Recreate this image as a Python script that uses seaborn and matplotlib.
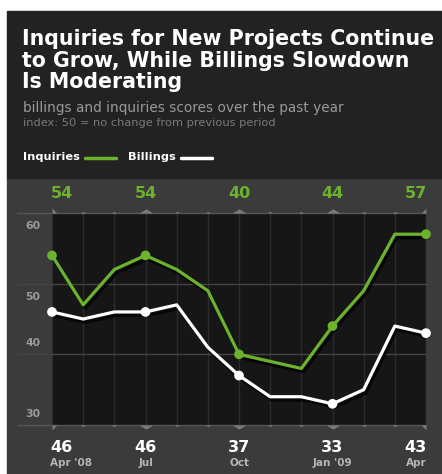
import matplotlib
matplotlib.use("Agg")
import matplotlib.pyplot as plt
import matplotlib.patheffects as pe
import matplotlib.transforms as mtransforms
from matplotlib.patches import Rectangle
import seaborn as sns
import pandas as pd

# ---------------- data ----------------
months = ["Apr '08", "May", "Jun", "Jul", "Aug", "Sep", "Oct", "Nov", "Dec",
          "Jan '09", "Feb", "Mar", "Apr"]
inquiries = [54, 47, 52, 54, 52, 49, 40, 39, 38, 44, 49, 57, 57]
billings = [46, 45, 46, 46, 47, 41, 37, 34, 34, 33, 35, 44, 43]
quarter_idx = [0, 3, 6, 9, 12]
quarter_labels = ["Apr '08", "Jul", "Oct", "Jan '09", "Apr"]
y_ticks = [60, 50, 40, 30]

title = "Inquiries for New Projects Continue\nto Grow, While Billings Slowdown\nIs Moderating"
subtitle = "billings and inquiries scores over the past year"
subtitle2 = "index: 50 = no change from previous period"

GREEN = "#6cb22c"
WHITE = "#ffffff"

df = pd.DataFrame({"idx": range(len(months)), "month": months,
                   "Inquiries": inquiries, "Billings": billings})

sns.set_theme(style="dark")
plt.rcParams["font.family"] = ["DejaVu Sans"]

W, H = 442, 474
fig = plt.figure(figsize=(W / 100, H / 100), dpi=100)
fig.patch.set_facecolor("white")

def fx(px):
    return px / W

def fy(py):
    return 1 - py / H

# backgrounds
fig.patches.append(Rectangle((fx(7), fy(474)), fx(442) - fx(7), fy(178) - fy(474),
                             transform=fig.transFigure, color="#3b3b3b", zorder=-10))
fig.patches.append(Rectangle((fx(7), fy(178)), fx(442) - fx(7), fy(11) - fy(178),
                             transform=fig.transFigure, color="#222222", zorder=-10))

# axes
ax = fig.add_axes([fx(52), fy(425), fx(426) - fx(52), fy(213) - fy(425)])
ax.set_zorder(1)
ax.set_facecolor("#161616")
for s in ax.spines.values():
    s.set_visible(False)

# vertical gridlines
for i in df["idx"]:
    ax.axvline(i, color="#2c2c2c", lw=1, zorder=1)

# horizontal gridlines extending left
x0 = (17 - 52) / 374
for v in y_ticks:
    col = "#555555" if v in (60, 30) else "#444444"
    ax.axhline(v, xmin=x0, xmax=1, color=col, lw=1, clip_on=False, zorder=1)

# y labels
blend_y = mtransforms.blended_transform_factory(fig.transFigure, ax.transData)
for v in y_ticks:
    va = "top" if v >= 50 else "bottom"
    off = -1.2 if v >= 50 else 0.9
    ax.text(fx(33), v + off, str(v), transform=blend_y, ha="center",
            va=va, color="#9a9a9a", fontsize=7.8, fontweight="bold")

# tick markers (triangles)
up_tri = [(-1, 0), (1, 0), (0, 0.6), (-1, 0)]
dn_tri = [(-1, 0), (1, 0), (0, -0.6), (-1, 0)]
up_left = [(0, 0), (1, 0), (0, 1), (0, 0)]
up_right = [(0, 0), (-1, 0), (0, 1), (0, 0)]
dn_left = [(0, 0), (1, 0), (0, -1), (0, 0)]
dn_right = [(0, 0), (-1, 0), (0, -1), (0, 0)]
tick_col = "#7a7a7a"
for i in df["idx"]:
    if i in (3, 6, 9):
        mu, md, ms = up_tri, dn_tri, 10
    elif i == 0:
        mu, md, ms = up_left, dn_left, 7
    elif i == 12:
        mu, md, ms = up_right, dn_right, 7
    else:
        mu, md, ms = up_tri, dn_tri, 4
    ax.plot(i, 60, marker=mu, ms=ms, color=tick_col, mew=0, clip_on=False, zorder=2)
    ax.plot(i, 30, marker=md, ms=ms, color=tick_col, mew=0, clip_on=False, zorder=2)

shadow = [pe.SimpleLineShadow(offset=(1.5, -2.5), shadow_color="black", alpha=0.7), pe.Normal()]
sns.lineplot(data=df, x="idx", y="Billings", ax=ax, color=WHITE, lw=2.3,
             marker="o", markevery=quarter_idx, ms=7, mew=0, clip_on=False,
             path_effects=shadow, zorder=4)
sns.lineplot(data=df, x="idx", y="Inquiries", ax=ax, color=GREEN, lw=2.3,
             marker="o", markevery=quarter_idx, ms=7, mew=0, clip_on=False,
             path_effects=shadow, zorder=5)
ax.set_xlim(0, 12)
ax.set_ylim(30, 60)
ax.set_xlabel("")
ax.set_ylabel("")
ax.set_xticks([])
ax.set_yticks([])
ax.grid(False)

# top/bottom value labels
blend_x = mtransforms.blended_transform_factory(ax.transData, fig.transFigure)
for k, i in enumerate(quarter_idx):
    ha = "left" if k == 0 else ("right" if k == len(quarter_idx) - 1 else "center")
    xi = i - 0.05 if k == 0 else (i + 0.03 if ha == "right" else i)
    ax.text(xi, fy(194), str(inquiries[i]), transform=blend_x, ha=ha, va="center",
            color=GREEN, fontsize=11.5, fontweight="bold")
    ax.text(xi, fy(447), str(billings[i]), transform=blend_x, ha=ha, va="center",
            color=WHITE, fontsize=11.5, fontweight="bold")
    ax.text(xi, fy(463.5), quarter_labels[k], transform=blend_x, ha=ha, va="center",
            color="#b5b5b5", fontsize=7.5, fontweight="bold")

# header texts
fig.text(fx(22), fy(29), title, ha="left", va="top", color="white",
         fontsize=14.8, fontweight="bold", linespacing=1.1)
fig.text(fx(23), fy(108), subtitle, ha="left", va="center", color="#9a9a9a", fontsize=9.8)
fig.text(fx(23), fy(123), subtitle2, ha="left", va="center", color="#7a7a7a", fontsize=8.2)

# legend
fig.text(fx(23), fy(157.5), "Inquiries", ha="left", va="center", color="white",
         fontsize=8.2, fontweight="bold")
fig.add_artist(plt.Line2D([fx(85), fx(116)], [fy(158), fy(158)], color=GREEN, lw=2.5,
                          transform=fig.transFigure))
fig.text(fx(128), fy(157.5), "Billings", ha="left", va="center", color="white",
         fontsize=8.2, fontweight="bold")
fig.add_artist(plt.Line2D([fx(181), fx(212)], [fy(158), fy(158)], color=WHITE, lw=2.5,
                          transform=fig.transFigure))

fig.savefig("out.png", dpi=100, facecolor=fig.get_facecolor())
